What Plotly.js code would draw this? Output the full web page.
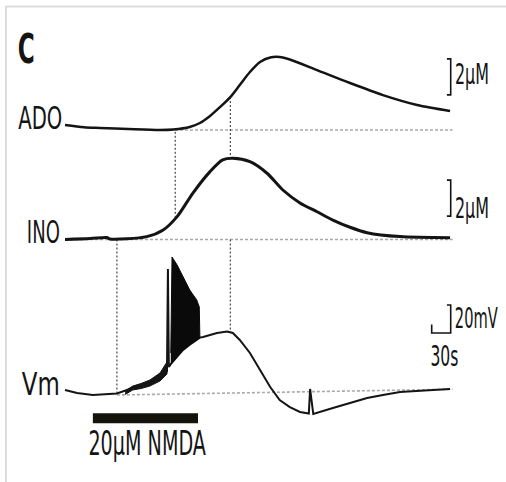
<!DOCTYPE html>
<html><head><meta charset="utf-8">
<script src="https://cdn.plot.ly/plotly-3.0.1.min.js"></script>
<style>html,body{margin:0;padding:0;background:#fff}#c{width:506px;height:482px}</style>
</head><body><div id="c"></div>
<script>
// ---- data (time in s, ADO/INO in µM above baseline, Vm in mV above baseline) ----
const adoT = [0, 30, 55, 100, 150, 171, 197, 213, 229, 245, 261, 276, 292, 308, 324, 339, 355, 398, 450, 502, 556, 608];
const adoV = [0.28, 0.15, 0.11, 0.05, 0, 0.03, 0.17, 0.39, 0.78, 1.28, 1.83, 2.5, 3.22, 3.78, 4.03, 4.06, 3.92, 3.33, 2.61, 1.94, 1.39, 1.06];
const inoT = [0, 40, 66, 71, 129, 155, 177, 202, 229, 249, 265, 292, 319, 344, 371, 398, 423, 450, 477, 529, 608];
const inoV = [0, 0.05, 0.11, 0.03, 0.16, 0.53, 1.27, 2.58, 3.77, 4.42, 4.51, 4.32, 3.68, 2.75, 2.03, 1.54, 1.08, 0.68, 0.38, 0.16, 0.1];
const vmT = [0, 19, 44, 82, 107, 134, 150, 161, 162.5, 164, 167, 177, 186, 197, 208, 213, 218, 229, 240, 256, 265, 276, 292, 308, 324, 339, 355, 371, 385, 387, 392, 423, 450, 477, 502, 529, 581, 608];
const vmV = [3.6, 1.4, 0, 1.1, 5, 8.6, 12.9, 17, 90, 20, 22, 27, 32, 36, 39.3, 41, 41.4, 42.9, 44.3, 45.4, 44.3, 39.3, 30, 17.9, 5.7, -3.6, -8.6, -12.1, -13.2, 4.3, -13.6, -9.3, -5.7, -2.1, 0, 2.1, 3.6, 4.3];
const noiseT = [95, 107, 120, 134, 150, 161];
const noiseHi = [3.0, 6.4, 8.2, 10.7, 15.7, 23.6];
const noiseLo = [0.4, 3.6, 4.6, 6.4, 10.0, 15.0];
const burstT = [167, 169, 177, 186, 197, 208, 212, 213];
const burstTop = [30, 98.6, 92.9, 84.3, 75, 67.9, 62.9, 41];
const burstBottom = [22, 23, 27, 32, 36, 39.3, 41, 41];
const adoBaseT = [150, 612], adoBaseV = [0, 0];
const inoBaseT = [0, 612], inoBaseV = [0, 0];
const vmBaseT = [82, 612], vmBaseV = [0, 4.1];
const markerT = [82, 174, 261];          // vertical guide lines (s)
const nmda = [44, 210];                 // NMDA application (s)
const scaleTime = 30, scaleVm = 20, scaleConc = 2;
const labels = ['ADO', 'INO', 'Vm'];

// ---- layout geometry ----
const W = 506, H = 482;
const x0px = 65, pxPerS = 19 / 30;
const adoBasePx = 130, inoBasePx = 239.5, vmBasePx = 395;
const pxPerUM = 18, pxPerMV = 1.4;
const xr = [(0 - x0px) / pxPerS, (W - x0px) / pxPerS];
const rng = (base, k) => [(base - H) / k, base / k];
const yA = rng(adoBasePx, pxPerUM), yI = rng(inoBasePx, pxPerUM), yV = rng(vmBasePx, pxPerMV);
const toPaper = (v, r) => (v - r[0]) / (r[1] - r[0]);
const PX = x => x / W, PY = y => 1 - y / H;
const FONT = "'DejaVu Sans Condensed', 'Liberation Sans', sans-serif";
const INK = '#141414';

const ax = {visible: false, showgrid: false, zeroline: false, fixedrange: true};
const dashGray = {color: '#a9a9a9', width: 1.6, dash: '3px,2px'};
const traces = [
  {x: adoBaseT, y: adoBaseV, yaxis: 'y', mode: 'lines', line: dashGray},
  {x: inoBaseT, y: inoBaseV, yaxis: 'y2', mode: 'lines', line: dashGray},
  {x: vmBaseT, y: vmBaseV, yaxis: 'y3', mode: 'lines', line: dashGray},
  {x: adoT, y: adoV, yaxis: 'y', mode: 'lines', line: {color: INK, width: 2.5, shape: 'spline', smoothing: 0.8}},
  {x: inoT, y: inoV, yaxis: 'y2', mode: 'lines', line: {color: INK, width: 3, shape: 'spline', smoothing: 0.8}},
  {x: vmT, y: vmV, yaxis: 'y3', mode: 'lines', line: {color: INK, width: 2}},
  {x: noiseT.concat(noiseT.slice().reverse()), y: noiseHi.concat(noiseLo.slice().reverse()), yaxis: 'y3',
   mode: 'lines', fill: 'toself', fillcolor: INK, line: {color: INK, width: 1}},
  {x: burstT.concat(burstT.slice().reverse()), y: burstTop.concat(burstBottom.slice().reverse()), yaxis: 'y3',
   mode: 'lines', fill: 'toself', fillcolor: '#0a0a0a', line: {color: '#0a0a0a', width: 1}}
];

// vertical guide lines (paper y computed from the axes they join)
const interp = (t, T, V) => { for (let i = 1; i < T.length; i++) if (t <= T[i]) { const f = (t - T[i-1]) / (T[i] - T[i-1]); return V[i-1] + f * (V[i] - V[i-1]); } return V[V.length-1]; };
const guide = (t, ya, yb) => ({type: 'line', xref: 'x', yref: 'paper', x0: t, x1: t, y0: ya, y1: yb, line: {color: '#222', width: 1, dash: '2px,2px'}});
const shapes = [
  {type: 'line', xref: 'paper', yref: 'paper', x0: PX(5), x1: 1, y0: PY(6.5), y1: PY(6.5), line: {color: '#dcdcdc', width: 2}},
  {type: 'line', xref: 'paper', yref: 'paper', x0: PX(6), x1: PX(6), y0: PY(6), y1: 0, line: {color: '#dcdcdc', width: 2}},
  guide(markerT[0], toPaper(0, yI), toPaper(interp(markerT[0], vmT, vmV), yV)),
  guide(markerT[1], toPaper(-0.1, yA), toPaper(interp(markerT[1], inoT, inoV), yI)),
  guide(markerT[2], toPaper(interp(markerT[2], adoT, adoV), yA), toPaper(interp(markerT[2], inoT, inoV), yI)),
  guide(markerT[2], toPaper(0, yI), toPaper(interp(markerT[2], vmT, vmV), yV)),
  {type: 'rect', xref: 'x', yref: 'y3', x0: nmda[0], x1: nmda[1], y0: -13, y1: -20.2, fillcolor: '#14140b', line: {width: 0}}
];
const brk = (axis, top) => ({type: 'path', xref: 'x', yref: axis,
  path: `M 603 ${top} L 609 ${top} L 609 ${top - scaleConc} L 603 ${top - scaleConc}`, line: {color: INK, width: 1.6}});
shapes.push(brk('y', 3.95), brk('y2', 3.3));
const sbT = 609, sbV = 44.3;
shapes.push({type: 'path', xref: 'x', yref: 'y3',
  path: `M ${sbT - scaleTime} ${sbV + 6} L ${sbT - scaleTime} ${sbV} L ${sbT} ${sbV} L ${sbT} ${sbV + scaleVm} L ${sbT - 6} ${sbV + scaleVm}`,
  line: {color: INK, width: 1.6}});

// text: [text, left px, right px, centre y px, font size, bold]
const texts = [
  ['C', 17, 34, 49, 40, true],
  [labels[0], 18, 62, 118, 32],
  [labels[1], 27, 60, 232, 32],
  [labels[2], 22, 60, 384, 32],
  ['2µM', 455, 489, 74, 28],
  ['2µM', 455, 489, 208, 28],
  ['20mV', 455, 498, 318, 29],
  ['30s', 430, 458, 356, 29],
  ['20µM NMDA', 88, 206, 443, 33]
];
const annotations = texts.map(([t, l, r, y, s, b]) => ({
  text: b ? '<b>' + t + '</b>' : t, xref: 'paper', yref: 'paper', x: PX((l + r) / 2), y: PY(y),
  xanchor: 'center', yanchor: 'middle', showarrow: false,
  font: {family: FONT, size: s, color: INK}
}));

Plotly.newPlot('c', traces, {
  width: W, height: H, margin: {l: 0, r: 0, t: 0, b: 0}, showlegend: false,
  paper_bgcolor: '#fff', plot_bgcolor: '#fff',
  xaxis: Object.assign({range: xr}, ax),
  yaxis: Object.assign({range: yA}, ax),
  yaxis2: Object.assign({range: yI, overlaying: 'y'}, ax),
  yaxis3: Object.assign({range: yV, overlaying: 'y'}, ax),
  shapes, annotations
}, {staticPlot: true}).then(gd => {
  // condense each label horizontally to the width it has in the figure
  const els = gd.querySelectorAll('text.annotation-text');
  els.forEach((el, i) => {
    const bb = el.getBBox();
    const target = texts[i][2] - texts[i][1];
    const s = Math.min(1, target / bb.width);
    const cx = bb.x + bb.width / 2;
    el.setAttribute('transform', `translate(${cx},0) scale(${s},1) translate(${-cx},0)`);
  });
});
</script></body></html>
